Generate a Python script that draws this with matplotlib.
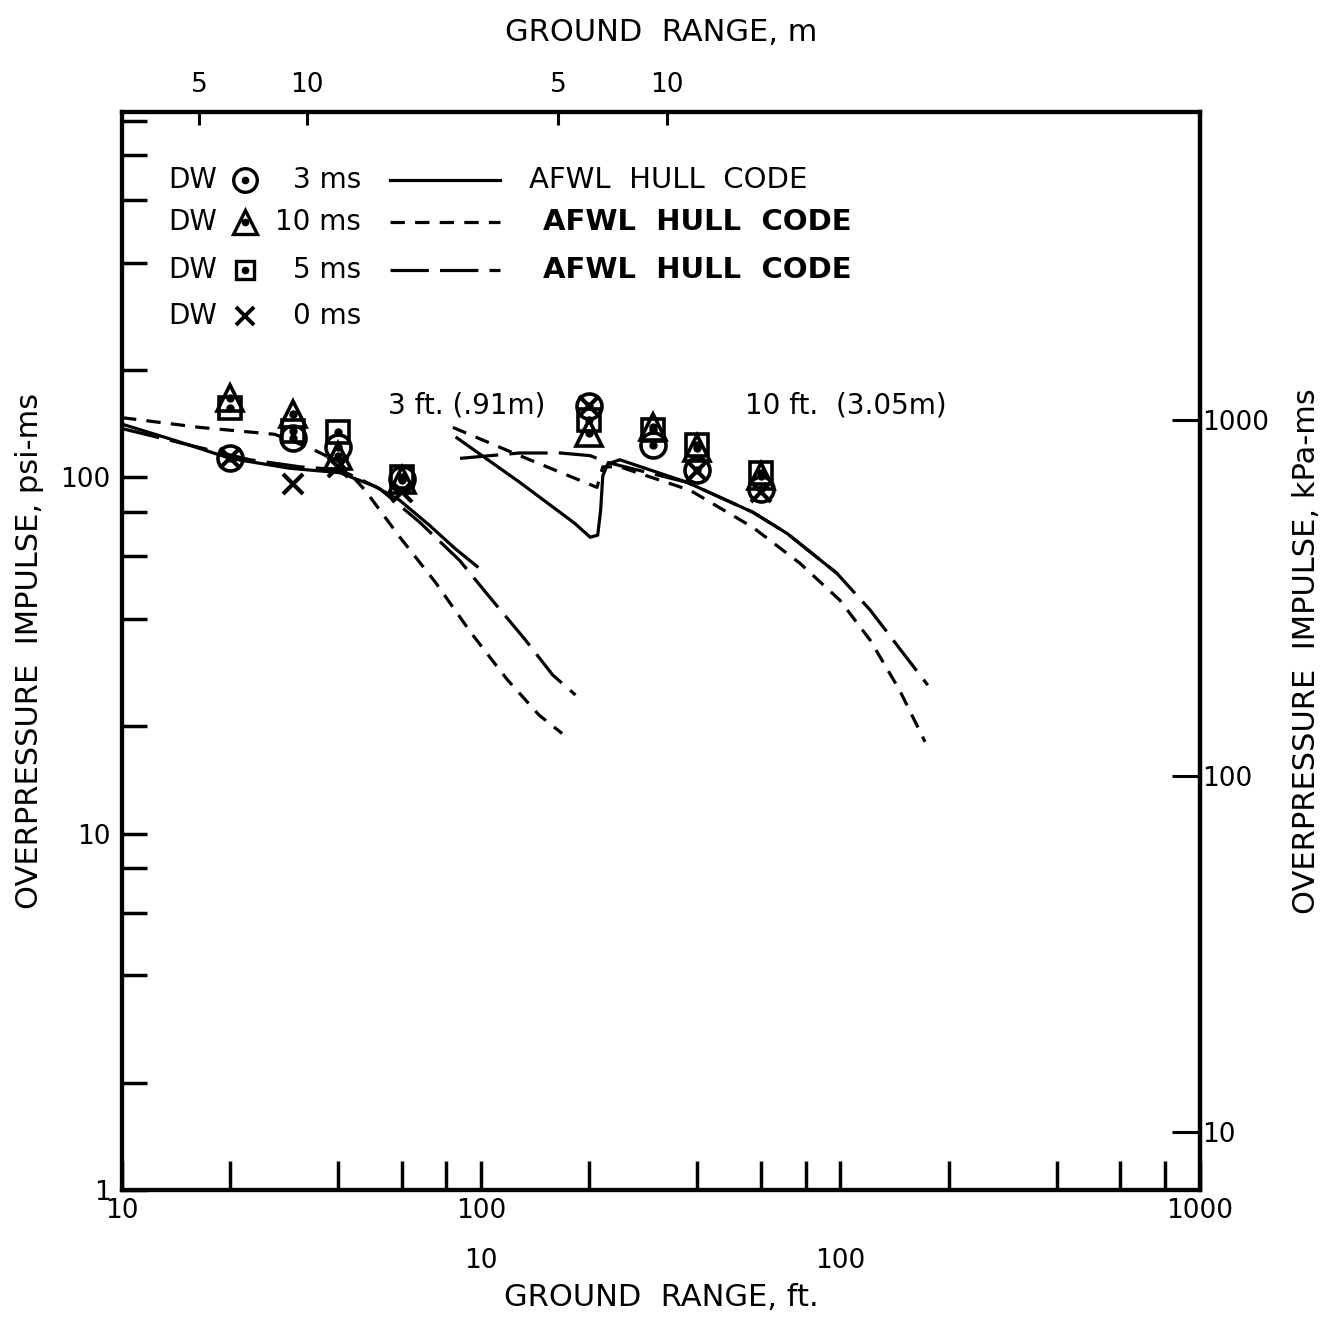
import matplotlib.pyplot as plt
from matplotlib.ticker import LogLocator, NullLocator

# measured impulse (psi-ms) at ground range (ft)
range_ft = [20, 30, 40, 60]
x0_range_10ft = [20, 40, 60]

# 3 ft (.91 m) group
circ_3ft = [113, 129, 122, 99]
tri_3ft = [167, 151, 115, 98]
sq_3ft = [156, 135, 134, 100]
x0_3ft = [113, 96, 107, 91]

# 10 ft (3.05 m) group
circ_10ft = [159, 123, 105, 93]
tri_10ft = [133, 138, 121, 101]
sq_10ft = [145, 136, 123, 103]
x0_10ft = [159, 104, 91]

# AFWL hull code curves, 3 ft group
hull10_3ft_r = [10.0, 16.5, 26.6, 33.3, 40.4, 47.5, 59.3, 74.6, 93.5, 118, 145, 168]
hull10_3ft_i = [147, 138, 132, 121, 110, 92, 68, 50.7, 36.7, 27.1, 21.5, 19.1]
hull3_3ft_r = [10.0, 14.0, 20.0, 29.3, 40.4, 50.6, 59.3, 71.8, 84.4, 97.4]
hull3_3ft_i = [141, 127, 113, 106, 103, 94.3, 86.2, 73.3, 63.2, 56.2]
hull5_3ft_r = [10.0, 14.5, 22.7, 31.3, 40.4, 52.1, 67.4, 87.0, 105, 132, 158, 183]
hull5_3ft_i = [137, 125, 112, 107, 105, 93, 74.8, 58.5, 46.4, 35.2, 27.9, 24.5]

# AFWL hull code curves, 10 ft group
hull10_10ft_r = [8.34, 12.8, 21.0, 21.8, 24.3, 38.1, 57.0, 77.1, 99.6, 121, 146, 172]
hull10_10ft_i = [138, 115, 93.7, 107, 107, 92, 72.4, 57.4, 45.2, 34.9, 25.3, 18.1]
hull3_10ft_r = [8.56, 12.8, 18.2, 20.1, 21.1, 21.5, 21.8, 22.5, 24.3, 37.4, 57.0, 71.0, 97.7]
hull3_10ft_i = [129, 96.8, 74.3, 67.9, 68.8, 80.8, 101, 109, 112, 96.8, 79.8, 69.6, 53.8]
hull5_10ft_r = [8.73, 12.8, 16.6, 20.1, 22.5, 37.4, 57.0, 71.0, 97.7, 121, 146, 175]
hull5_10ft_i = [113, 117, 117, 115, 110, 96.8, 79.8, 69.6, 53.8, 42.4, 33.1, 26.1]

PSI_TO_KPA = 6.895
FT_TO_M = 0.3048
FS = 19      # tick labels
LFS = 22     # axis titles

plt.rcParams['font.family'] = 'DejaVu Sans'
fig = plt.figure(figsize=(13.33, 13.18), dpi=100)
ax = fig.add_axes([0.0915, 0.0971, 0.8085, 0.818])
ax.set_xscale('log')
ax.set_yscale('log')
ax.set_xlim(10, 10000)
ax.set_ylim(1, 1060)

# second group sits one decade to the right
ax2 = ax.twiny()
ax2.set_xscale('log')
ax2.set_xlim(1, 1000)

short_dash = dict(color='k', lw=2.3, dashes=[4.5, 3.2])
long_dash = dict(color='k', lw=2.3, dashes=[12, 3.5])
solid = dict(color='k', lw=2.3)


def draw_group(a, r, x0r, circ, tri, sq, x0, h10, h3, h5):
    a.plot(h10[0], h10[1], **short_dash)
    a.plot(h5[0], h5[1], **long_dash)
    a.plot(h3[0], h3[1], **solid)
    mk = dict(ls='none', mfc='none', mec='k', mew=2.6)
    a.plot(r, sq, marker='s', ms=16, **mk)
    a.plot(r, tri, marker='^', ms=19, **mk)
    a.plot(r, circ, marker='o', ms=18, **mk)
    for vals in (sq, tri, circ):
        a.plot(r, vals, ls='none', marker='o', ms=5, color='k')
    a.plot(x0r, x0, ls='none', marker='x', ms=15, mew=3, color='k')


draw_group(ax, range_ft, range_ft, circ_3ft, tri_3ft, sq_3ft, x0_3ft,
           (hull10_3ft_r, hull10_3ft_i), (hull3_3ft_r, hull3_3ft_i), (hull5_3ft_r, hull5_3ft_i))
draw_group(ax2, range_ft, x0_range_10ft, circ_10ft, tri_10ft, sq_10ft, x0_10ft,
           (hull10_10ft_r, hull10_10ft_i), (hull3_10ft_r, hull3_10ft_i), (hull5_10ft_r, hull5_10ft_i))

# spines
for a in (ax, ax2):
    for s in a.spines.values():
        s.set_linewidth(3)

# bottom axis (ft)
ax.set_xticks([10, 100, 1000, 10000], labels=['10', '100', '', '1000'])
ax.xaxis.set_minor_locator(LogLocator(base=10, subs=(2, 4, 6, 8)))
ax.tick_params(axis='x', which='both', direction='in', length=21, width=2.5,
               labelsize=FS, pad=6, top=False)
ax.tick_params(axis='x', which='minor', labelbottom=False)

# left axis (psi-ms)
ax.set_yticks([1, 10, 100, 1000], labels=['1', '10', '100', ''])
ax.yaxis.set_minor_locator(LogLocator(base=10, subs=(2, 4, 6, 8)))
ax.yaxis.set_minor_formatter(plt.NullFormatter())
ax.tick_params(axis='y', which='both', direction='in', length=18, width=2.5,
               labelsize=FS, pad=8, right=False)
ax.set_ylabel('OVERPRESSURE  IMPULSE, psi-ms', fontsize=LFS, labelpad=12)

# second row of ft labels for the right group
secb = ax2.secondary_xaxis('bottom')
secb.set_xticks([10, 100], labels=['10', '100'])
secb.xaxis.set_minor_locator(NullLocator())
secb.tick_params(length=0, labelsize=FS, pad=42)
secb.spines['bottom'].set_visible(False)
secb.set_xlabel('GROUND  RANGE, ft.', fontsize=LFS, labelpad=6)

# top axis (m) for both groups
ax2.set_xticks([5 / FT_TO_M, 10 / FT_TO_M], labels=['5', '10'])
ax2.xaxis.set_minor_locator(NullLocator())
ax2.tick_params(axis='x', direction='in', length=9, width=2.2, labelsize=FS, pad=10)
ax2.set_xlabel('GROUND  RANGE, m', fontsize=LFS, labelpad=22)
sect = ax.secondary_xaxis('top', functions=(lambda f: f * FT_TO_M, lambda m: m / FT_TO_M))
sect.set_xticks([5, 10], labels=['5', '10'])
sect.xaxis.set_minor_locator(NullLocator())
sect.tick_params(direction='in', length=9, width=2.2, labelsize=FS, pad=10)
sect.spines['top'].set_visible(False)

# right axis (kPa-ms)
secr = ax.secondary_yaxis('right', functions=(lambda p: p * PSI_TO_KPA, lambda k: k / PSI_TO_KPA))
secr.set_yticks([10, 100, 1000], labels=['10', '100', '1000'])
secr.yaxis.set_minor_locator(NullLocator())
secr.tick_params(direction='in', length=20, width=2.2, labelsize=FS, pad=2)
secr.spines['right'].set_linewidth(3)
secr.set_ylabel('OVERPRESSURE  IMPULSE, kPa-ms', fontsize=LFS, labelpad=16)

# group captions
ax.text(0.247, 0.728, '3 ft. (.91m)', transform=ax.transAxes, fontsize=20, va='center')
ax.text(0.578, 0.728, '10 ft.  (3.05m)', transform=ax.transAxes, fontsize=20, va='center')

# legend block
rows = [0.937, 0.898, 0.853, 0.811]
mks = ['o', '^', 's', 'x']
times = ['3 ms', '10 ms', '5 ms', '0 ms']
styles = [solid, short_dash, long_dash, None]
weights = ['normal', 'bold', 'bold']
for i, y in enumerate(rows):
    ax.text(0.043, y, 'DW', transform=ax.transAxes, fontsize=20, va='center')
    if mks[i] == 'x':
        ax.plot([0.114], [y], transform=ax.transAxes, marker='x', ms=13, mew=2.8, color='k')
    else:
        ax.plot([0.114], [y], transform=ax.transAxes, marker=mks[i], ms=17 if mks[i] != 's' else 13,
                mfc='none', mec='k', mew=2.4)
        ax.plot([0.114], [y], transform=ax.transAxes, marker='o', ms=4.5, color='k')
    ax.text(0.222, y, times[i], transform=ax.transAxes, fontsize=20, va='center', ha='right')
    if styles[i] is not None:
        ax.plot([0.249, 0.351], [y, y], transform=ax.transAxes, **styles[i])
        ax.text(0.378 if i == 0 else 0.391, y, 'AFWL  HULL  CODE', transform=ax.transAxes,
                fontsize=21, va='center', fontweight=weights[i])

fig.savefig('out.png', dpi=100)
